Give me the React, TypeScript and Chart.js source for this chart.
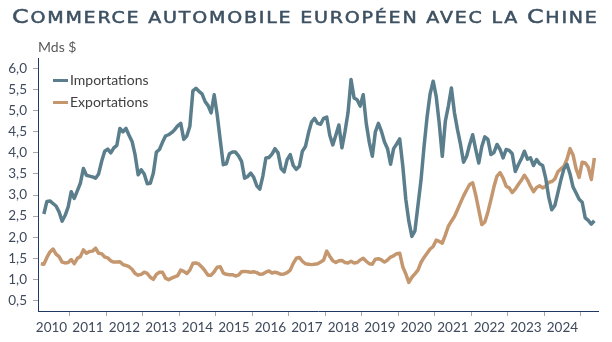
import React, { useEffect, useRef } from 'react';
import { Chart, registerables } from 'chart.js';

Chart.register(...registerables);

// Monthly series, starting March 2010 (one value per month)
const startYear = 2010;
const startMonth = 3;

const importations: (number | null)[] = [
  // 2010 (Mar-Dec)
  null, 2.55, 2.85, 2.86, 2.80, 2.74, 2.60, 2.38, 2.52, 2.72,
  // 2011
  3.08, 2.92, 3.10, 3.28, 3.63, 3.47, 3.45, 3.43, 3.40, 3.50, 3.80, 4.04,
  // 2012
  4.09, 4.00, 4.12, 4.18, 4.58, 4.50, 4.58, 4.42, 4.27, 3.95, 3.48, 3.60,
  // 2013
  3.50, 3.27, 3.28, 3.52, 4.02, 4.08, 4.25, 4.40, 4.43, 4.48, 4.55, 4.64,
  // 2014
  4.70, 4.32, 4.40, 4.63, 5.47, 5.53, 5.46, 5.40, 5.22, 5.12, 4.95, 5.38,
  // 2015
  4.90, 4.30, 3.72, 3.74, 3.98, 4.02, 4.02, 3.93, 3.80, 3.40, 3.44, 3.52,
  // 2016
  3.42, 3.22, 3.14, 3.45, 3.88, 3.89, 3.97, 4.10, 4.00, 3.63, 3.55, 3.84,
  // 2017
  3.96, 3.70, 3.61, 3.68, 4.04, 4.15, 4.47, 4.73, 4.82, 4.70, 4.68, 4.82,
  // 2018
  4.85, 4.42, 4.19, 4.42, 4.66, 4.12, 4.50, 4.95, 5.74, 5.30, 5.26, 5.11,
  // 2019
  5.38, 4.70, 4.25, 3.92, 4.50, 4.70, 4.51, 4.26, 4.10, 3.73, 4.10, 4.21,
  // 2020
  4.33, 3.70, 2.90, 2.38, 2.02, 2.15, 2.75, 3.35, 4.15, 4.85, 5.40, 5.70,
  // 2021
  5.34, 4.70, 3.92, 4.75, 5.11, 5.54, 4.95, 4.55, 4.20, 3.78, 3.92, 4.20,
  // 2022
  4.43, 4.08, 3.76, 4.15, 4.38, 4.32, 3.96, 4.01, 4.20, 4.08, 3.88, 4.08,
  // 2023
  4.06, 3.98, 3.56, 3.72, 3.86, 4.04, 3.85, 3.88, 3.70, 3.84, 3.74, 3.70,
  // 2024
  3.40, 2.95, 2.65, 2.75, 3.05, 3.36, 3.62, 3.73, 3.50, 3.19, 3.05, 2.90,
  // 2025 (Jan-May)
  2.83, 2.46, 2.40, 2.31, 2.39,
];

const exportations: number[] = [
  // 2010 (Mar-Dec)
  1.37, 1.36, 1.52, 1.65, 1.72, 1.60, 1.54, 1.41, 1.39, 1.40,
  // 2011
  1.47, 1.37, 1.50, 1.54, 1.70, 1.62, 1.66, 1.67, 1.74, 1.62, 1.61, 1.53,
  // 2012
  1.51, 1.44, 1.41, 1.41, 1.42, 1.35, 1.33, 1.30, 1.24, 1.14, 1.10, 1.12,
  // 2013
  1.17, 1.14, 1.05, 1.00, 1.12, 1.17, 1.17, 1.03, 0.99, 1.03, 1.06, 1.09,
  // 2014
  1.22, 1.19, 1.14, 1.22, 1.38, 1.39, 1.36, 1.29, 1.20, 1.10, 1.10, 1.18,
  // 2015
  1.29, 1.30, 1.15, 1.12, 1.11, 1.11, 1.08, 1.10, 1.18, 1.19, 1.18, 1.17,
  // 2016
  1.18, 1.16, 1.12, 1.13, 1.17, 1.20, 1.15, 1.17, 1.15, 1.12, 1.13, 1.16,
  // 2017
  1.22, 1.38, 1.50, 1.52, 1.43, 1.37, 1.36, 1.35, 1.36, 1.37, 1.41, 1.46,
  // 2018
  1.67, 1.55, 1.44, 1.40, 1.44, 1.45, 1.40, 1.39, 1.43, 1.39, 1.40, 1.46,
  // 2019
  1.50, 1.43, 1.37, 1.36, 1.48, 1.49, 1.46, 1.41, 1.46, 1.53, 1.56, 1.61,
  // 2020
  1.62, 1.30, 1.13, 0.93, 1.05, 1.13, 1.22, 1.40, 1.52, 1.62, 1.72, 1.78,
  // 2021
  1.93, 1.90, 1.86, 2.05, 2.26, 2.38, 2.49, 2.65, 2.82, 2.98, 3.12, 3.25,
  // 2022
  3.29, 3.00, 2.65, 2.30, 2.36, 2.60, 2.89, 3.20, 3.45, 3.53, 3.40, 3.21,
  // 2023
  3.17, 3.06, 3.14, 3.25, 3.35, 3.47, 3.36, 3.21, 3.08, 3.18, 3.22, 3.17,
  // 2024
  3.21, 3.30, 3.32, 3.38, 3.55, 3.62, 3.68, 3.85, 4.10, 3.95, 3.62, 3.42,
  // 2025 (Jan-May)
  3.78, 3.76, 3.66, 3.37, 3.88,
];

const yearLabels = [
  '2010', '2011', '2012', '2013', '2014', '2015', '2016', '2017',
  '2018', '2019', '2020', '2021', '2022', '2023', '2024',
];

const yTickValues = [0.5, 1, 1.5, 2, 2.5, 3, 3.5, 4, 4.5, 5, 5.5, 6];

const seriesNames = ['Importations', 'Exportations'];
const seriesColors = ['#5b7e8c', '#c4976f'];

const titleText = 'Commerce automobile européen avec la Chine';
const unitText = 'Mds $';

// month labels (categories) and their position in months since Jan 2010
const months = exportations.map((_, i) => {
  const t = startYear * 12 + (startMonth - 1) + i;
  const y = Math.floor(t / 12);
  const m = (t % 12) + 1;
  return `${y}-${String(m).padStart(2, '0')}`;
});
const monthPos = (label: string) => {
  const [y, m] = label.split('-').map(Number);
  return (y - 2010) * 12 + (m - 1) + 0.5;
};

const FONT = 'Lato, "DejaVu Sans", sans-serif';

export default function App() {
  const ref = useRef<HTMLCanvasElement | null>(null);

  useEffect(() => {
    if (!ref.current) return;
    const chart = new Chart(ref.current, {
      type: 'line',
      data: {
        datasets: [
          {
            label: seriesNames[0],
            data: months.map((mo, i) => ({ x: monthPos(mo), y: importations[i] })),
            borderColor: seriesColors[0],
            backgroundColor: seriesColors[0],
            borderWidth: 3.5,
            pointRadius: 0,
            tension: 0,
            borderJoinStyle: 'round',
          },
          {
            label: seriesNames[1],
            data: months.map((mo, i) => ({ x: monthPos(mo), y: exportations[i] })),
            borderColor: seriesColors[1],
            backgroundColor: seriesColors[1],
            borderWidth: 3.5,
            pointRadius: 0,
            tension: 0,
            borderJoinStyle: 'round',
          },
        ],
      },
      options: {
        responsive: false,
        animation: false,
        devicePixelRatio: 1,
        layout: { padding: { left: 0, top: 58, right: 14, bottom: 0 } },
        plugins: {
          legend: { display: false },
          tooltip: { enabled: false },
          title: { display: false },
        },
        scales: {
          x: {
            type: 'linear',
            min: 1.57,
            max: 185.7,
            bounds: 'data',
            afterBuildTicks: (scale: any) => {
              scale.ticks = yearLabels.map((_, k) => ({ value: k * 12 + 6 }));
            },
            afterFit: (scale: any) => {
              scale.height = 31;
            },
            ticks: {
              autoSkip: false,
              maxRotation: 0,
              minRotation: 0,
              padding: 4,
              color: '#3f4a5c',
              font: { family: FONT, size: 13.5 },
              callback: (_v: any, i: number) => yearLabels[i],
            },
            grid: {
              offset: true,
              drawOnChartArea: false,
              drawTicks: true,
              tickLength: 5,
              color: '#a6a6a6',
              lineWidth: 1,
            },
            border: { display: true, color: '#1f3864', width: 1 },
          },
          y: {
            type: 'linear',
            min: 0.25,
            max: 6.25,
            bounds: 'data',
            afterBuildTicks: (scale: any) => {
              scale.ticks = yTickValues.map((v) => ({ value: v }));
            },
            afterFit: (scale: any) => {
              scale.width = 38;
            },
            ticks: {
              padding: 6,
              color: '#3f4a5c',
              font: { family: FONT, size: 13.5 },
              callback: (v: any) => Number(v).toFixed(1).replace('.', ','),
            },
            grid: {
              drawOnChartArea: false,
              drawTicks: true,
              tickLength: 5,
              color: '#a6a6a6',
              lineWidth: 1,
            },
            border: { display: true, color: '#1f3864', width: 1 },
          },
        },
      },
    } as any);
    return () => chart.destroy();
  }, []);

  const capBig = 20;
  const capSmall = 16;
  const first = titleText.slice(0, 1);
  const idx = titleText.lastIndexOf('C');
  const mid = titleText.slice(1, idx);
  const second = titleText.slice(idx, idx + 1);
  const rest = titleText.slice(idx + 1);

  return (
    <div
      style={{
        position: 'fixed',
        left: 0,
        top: 0,
        width: 612,
        height: 342,
        background: '#ffffff',
        overflow: 'hidden',
      }}
    >
      <canvas ref={ref} width={612} height={342} style={{ position: 'absolute', left: 0, top: 0, width: 612, height: 342 }} />
      <div
        style={{
          position: 'absolute',
          left: 12,
          top: 6,
          whiteSpace: 'nowrap',
          fontFamily: '"DejaVu Sans", sans-serif',
          color: '#3d5162',
          lineHeight: '20px',
          letterSpacing: '1.5px',
          transform: 'scaleX(1.19)',
          transformOrigin: 'left top',
          WebkitTextStroke: '0.5px #3d5162',
        }}
      >
        <span style={{ fontSize: capBig }}>{first}</span>
        <span style={{ fontSize: capSmall, textTransform: 'uppercase' }}>{mid}</span>
        <span style={{ fontSize: capBig }}>{second}</span>
        <span style={{ fontSize: capSmall, textTransform: 'uppercase' }}>{rest}</span>
      </div>
      <div
        style={{
          position: 'absolute',
          left: 38,
          top: 39,
          fontFamily: FONT,
          fontSize: 14,
          lineHeight: '16px',
          color: '#595959',
          whiteSpace: 'nowrap',
        }}
      >
        {unitText}
      </div>
      {seriesNames.map((name, i) => (
        <div key={name} style={{ position: 'absolute', left: 53, top: 72.3 + i * 22, height: 16, whiteSpace: 'nowrap' }}>
          <div
            style={{
              position: 'absolute',
              left: 0,
              top: 6.5,
              width: 15,
              height: 3.5,
              background: seriesColors[i],
            }}
          />
          <span
            style={{
              position: 'absolute',
              left: 17,
              top: 0,
              fontFamily: FONT,
              fontSize: 14,
              lineHeight: '16px',
              color: '#404040',
            }}
          >
            {name}
          </span>
        </div>
      ))}
    </div>
  );
}
